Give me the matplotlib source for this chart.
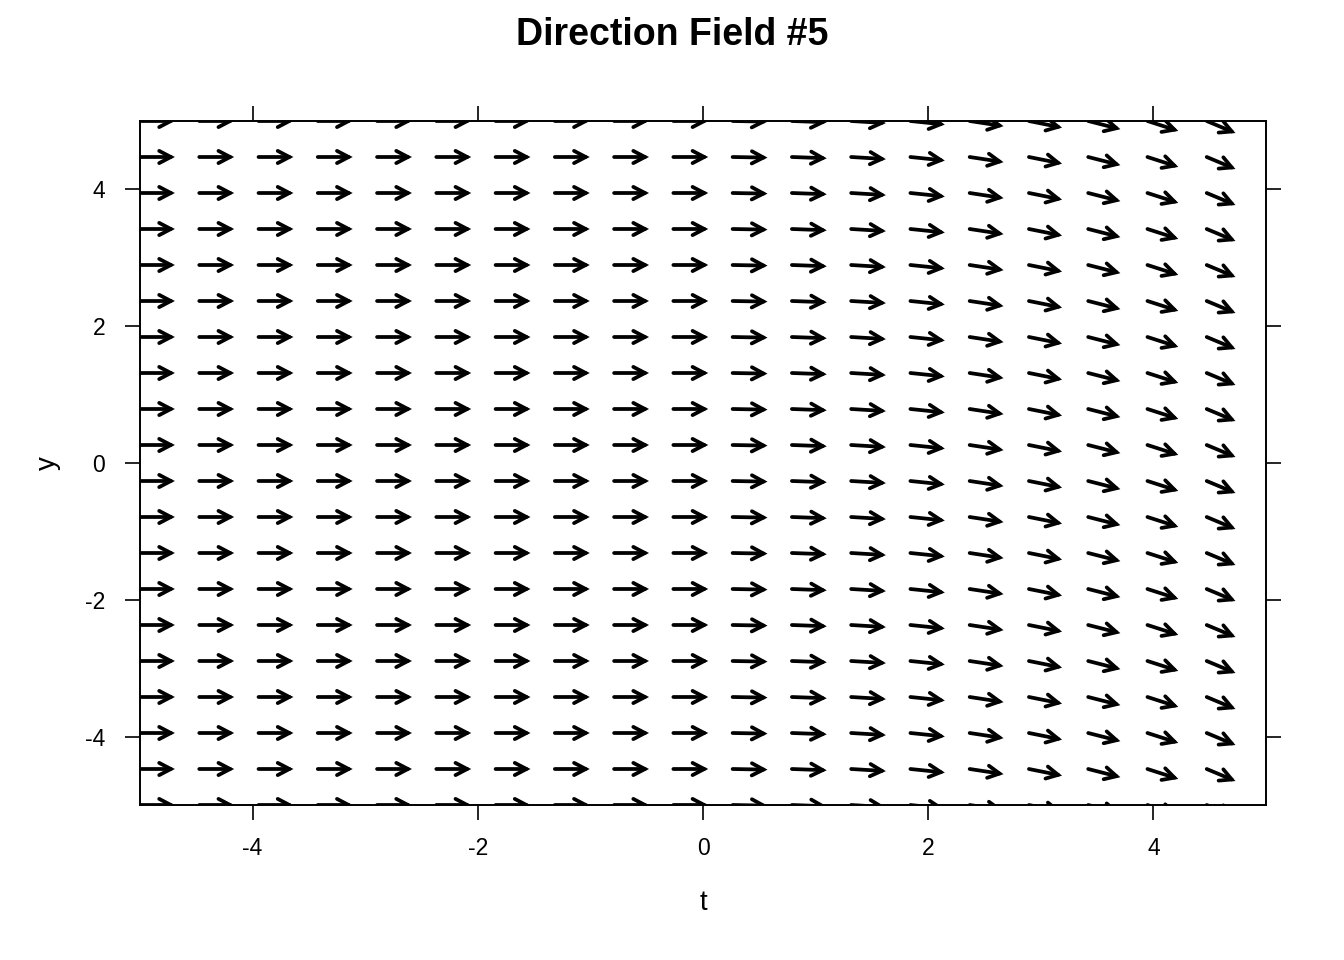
import numpy as np
import matplotlib
matplotlib.use("Agg")
import matplotlib.pyplot as plt
from matplotlib.patches import FancyArrowPatch

plt.rcParams['font.family'] = ['Liberation Sans', 'DejaVu Sans']
plt.rcParams['axes.unicode_minus'] = False

# grid of the direction field (20 x 20 points over [-5, 5]);
# the column at t = 5 falls outside the panel
t_grid = np.linspace(-5, 5, 20)
y_grid = np.linspace(-5, 5, 20)

# slope dy/dt read per column (does not change with y)
slopes = [0, 0, 0, 0, 0, 0, 0, 0, 0, 0,
          -0.03, -0.06, -0.10, -0.17, -0.25, -0.33, -0.42, -0.53, -0.69]

arrow_len = 0.31   # in data units

fig = plt.figure(figsize=(13.44, 9.6), dpi=100)
ax = fig.add_axes([140/1344, 1-805/960, 1126/1344, 684/960])

for t, s in zip(t_grid, slopes):
    dt = arrow_len / np.sqrt(1 + s**2)
    dy = s * dt
    for y in y_grid:
        a = FancyArrowPatch((t, y), (t + dt, y + dy),
                            arrowstyle='->,head_length=0.42,head_width=0.22',
                            mutation_scale=20, lw=2.7, color='black',
                            shrinkA=0, shrinkB=0, joinstyle='miter')
        ax.add_patch(a)

ax.set_xlim(-5, 5)
ax.set_ylim(-5, 5)
ax.set_xticks([-4, -2, 0, 2, 4])
ax.set_yticks([-4, -2, 0, 2, 4])
ax.tick_params(direction='out', length=11, width=1.2, labelsize=16.5, pad=12,
               top=True, right=True, labeltop=False, labelright=False)
ax.tick_params(axis='y', pad=14)
for sp in ax.spines.values():
    sp.set_linewidth(1.4)

ax.set_xlabel('t', fontsize=20, labelpad=22)
ax.set_ylabel('y', fontsize=20, labelpad=17)
fig.suptitle('Direction Field #5', fontsize=27, fontweight='bold', y=0.982)

fig.savefig('out.png', dpi=100)
